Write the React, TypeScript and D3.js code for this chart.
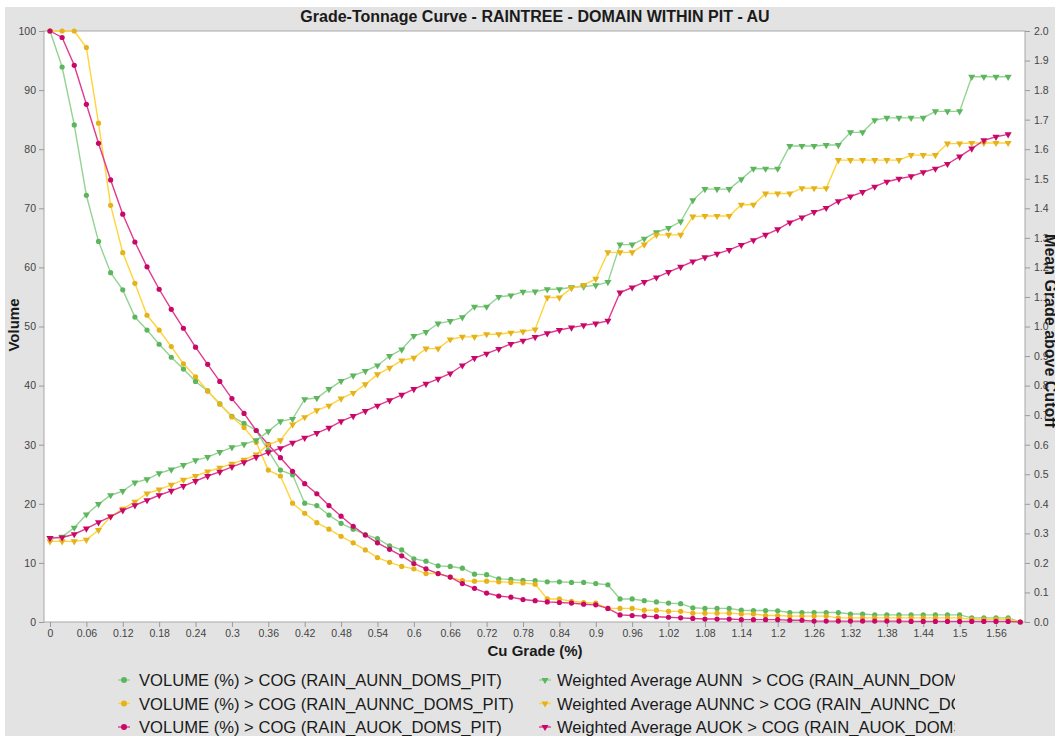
import { useEffect, useRef } from 'react';
import * as d3 from 'd3';

// cut-off grades (Cu %), one point every 0.02
const cutoffs = [
  0, 0.02, 0.04, 0.06, 0.08, 0.1, 0.12, 0.14, 0.16, 0.18,
  0.2, 0.22, 0.24, 0.26, 0.28, 0.3, 0.32, 0.34, 0.36, 0.38,
  0.4, 0.42, 0.44, 0.46, 0.48, 0.5, 0.52, 0.54, 0.56, 0.58,
  0.6, 0.62, 0.64, 0.66, 0.68, 0.7, 0.72, 0.74, 0.76, 0.78,
  0.8, 0.82, 0.84, 0.86, 0.88, 0.9, 0.92, 0.94, 0.96, 0.98,
  1, 1.02, 1.04, 1.06, 1.08, 1.1, 1.12, 1.14, 1.16, 1.18,
  1.2, 1.22, 1.24, 1.26, 1.28, 1.3, 1.32, 1.34, 1.36, 1.38,
  1.4, 1.42, 1.44, 1.46, 1.48, 1.5, 1.52, 1.54, 1.56, 1.58,
  1.6,
];

const xTicks = [0, 0.06, 0.12, 0.18, 0.24, 0.3, 0.36, 0.42, 0.48, 0.54, 0.6, 0.66, 0.72, 0.78,
  0.84, 0.9, 0.96, 1.02, 1.08, 1.14, 1.2, 1.26, 1.32, 1.38, 1.44, 1.5, 1.56];
const xTickLabels = ['0', '0.06', '0.12', '0.18', '0.24', '0.3', '0.36', '0.42', '0.48', '0.54', '0.6',
  '0.66', '0.72', '0.78', '0.84', '0.9', '0.96', '1.02', '1.08', '1.14', '1.2', '1.26', '1.32', '1.38',
  '1.44', '1.5', '1.56'];
const volumeTicks = [0, 10, 20, 30, 40, 50, 60, 70, 80, 90, 100];
const gradeTicks = [0, 0.1, 0.2, 0.3, 0.4, 0.5, 0.6, 0.7, 0.8, 0.9, 1.0, 1.1, 1.2, 1.3, 1.4, 1.5, 1.6, 1.7, 1.8, 1.9, 2.0];

// VOLUME (%) > COG
const volAunn = [
  100, 93.9, 84.1, 72.2, 64.4, 59.1, 56.2, 51.6, 49.4, 47.0,
  44.8, 42.8, 40.7, 39.1, 36.9, 34.8, 33.6, 32.4, 29.0, 25.7,
  24.9, 20.1, 19.7, 18.1, 16.7, 15.7, 14.8, 14.1, 12.9, 12.2,
  10.7, 10.3, 9.5, 9.4, 9.1, 8.1, 8.0, 7.3, 7.2, 7.05,
  7.0, 6.8, 6.8, 6.7, 6.7, 6.5, 6.3, 3.9, 3.9, 3.6,
  3.4, 3.2, 3.1, 2.4, 2.3, 2.3, 2.3, 2.0, 1.95, 1.95,
  1.9, 1.6, 1.6, 1.6, 1.6, 1.6, 1.35, 1.35, 1.2, 1.2,
  1.2, 1.2, 1.2, 1.2, 1.2, 1.2, 0.7, 0.7, 0.7, 0.7,
  0,
];
const volAunnc = [
  100, 100, 100, 97.2, 84.4, 70.5, 62.5, 57.3, 51.9, 49.4,
  46.6, 43.7, 41.5, 39.1, 36.9, 34.7, 32.9, 30.4, 25.7, 24.7,
  20.1, 18.4, 16.8, 15.7, 14.5, 13.4, 12.2, 10.9, 10.1, 9.4,
  9.0, 8.2, 8.2, 7.6, 7.0, 6.9, 6.9, 6.8, 6.7, 6.6,
  6.4, 3.9, 3.9, 3.5, 3.3, 3.2, 2.3, 2.3, 2.3, 2.0,
  2.0, 1.8, 1.8, 1.5, 1.5, 1.5, 1.5, 1.35, 1.35, 1.1,
  1.1, 1.0, 1.0, 1.0, 1.0, 0.7, 0.7, 0.7, 0.7, 0.7,
  0.7, 0.7, 0.7, 0.7, 0.7, 0.7, 0.45, 0.45, 0.45, 0.45,
  0,
];
const volAuok = [
  100, 98.9, 94.2, 87.6, 81.0, 74.8, 69.0, 64.3, 60.1, 56.3,
  52.9, 49.7, 46.5, 43.6, 40.7, 37.8, 35.3, 32.4, 30.0, 27.8,
  25.5, 23.4, 21.7, 19.7, 17.9, 16.2, 14.7, 13.4, 12.3, 11.2,
  9.9, 9.0, 8.2, 7.6, 6.5, 5.7, 4.9, 4.4, 4.2, 3.8,
  3.6, 3.4, 3.3, 3.2, 3.0, 2.9, 2.3, 1.2, 1.1, 1.0,
  0.9, 0.8, 0.7, 0.6, 0.5, 0.5, 0.5, 0.4, 0.4, 0.4,
  0.4, 0.3, 0.3, 0.15, 0.15, 0.15, 0.15, 0.15, 0.15, 0.15,
  0.15, 0.1, 0.1, 0.1, 0.1, 0.1, 0.1, 0.1, 0.1, 0.1,
  0,
];

// Weighted average grade > COG (right axis), last cut-off has no value
const gradeAunn = [
  0.284, 0.288, 0.319, 0.364, 0.399, 0.429, 0.443, 0.472, 0.483, 0.503,
  0.516, 0.531, 0.547, 0.558, 0.575, 0.591, 0.601, 0.615, 0.645, 0.679,
  0.687, 0.754, 0.758, 0.788, 0.815, 0.834, 0.849, 0.868, 0.900, 0.922,
  0.968, 0.981, 1.010, 1.018, 1.031, 1.067, 1.067, 1.100, 1.105, 1.117,
  1.118, 1.126, 1.126, 1.133, 1.135, 1.139, 1.150, 1.277, 1.277, 1.297,
  1.319, 1.333, 1.355, 1.427, 1.465, 1.465, 1.465, 1.498, 1.534, 1.534,
  1.534, 1.611, 1.611, 1.611, 1.614, 1.614, 1.657, 1.657, 1.698, 1.706,
  1.706, 1.706, 1.706, 1.728, 1.728, 1.728, 1.845, 1.845, 1.845, 1.845,
];
const gradeAunnc = [
  0.273, 0.273, 0.273, 0.278, 0.311, 0.357, 0.383, 0.407, 0.435, 0.448,
  0.464, 0.481, 0.494, 0.509, 0.522, 0.535, 0.549, 0.567, 0.600, 0.615,
  0.668, 0.693, 0.716, 0.732, 0.756, 0.775, 0.804, 0.838, 0.860, 0.885,
  0.894, 0.925, 0.925, 0.956, 0.965, 0.965, 0.974, 0.974, 0.979, 0.983,
  0.990, 1.098, 1.098, 1.130, 1.140, 1.161, 1.251, 1.251, 1.251, 1.277,
  1.310, 1.310, 1.310, 1.372, 1.374, 1.374, 1.374, 1.412, 1.412, 1.450,
  1.450, 1.450, 1.468, 1.468, 1.468, 1.563, 1.563, 1.563, 1.563, 1.563,
  1.563, 1.580, 1.580, 1.580, 1.619, 1.619, 1.621, 1.621, 1.621, 1.621,
];
const gradeAuok = [
  0.284, 0.286, 0.297, 0.316, 0.337, 0.357, 0.378, 0.395, 0.412, 0.429,
  0.444, 0.460, 0.477, 0.494, 0.508, 0.525, 0.540, 0.558, 0.574, 0.588,
  0.606, 0.623, 0.639, 0.657, 0.679, 0.697, 0.714, 0.732, 0.750, 0.769,
  0.788, 0.806, 0.823, 0.841, 0.868, 0.893, 0.908, 0.924, 0.941, 0.952,
  0.964, 0.977, 0.988, 0.996, 1.004, 1.010, 1.019, 1.115, 1.132, 1.150,
  1.166, 1.184, 1.202, 1.220, 1.234, 1.246, 1.259, 1.276, 1.292, 1.310,
  1.329, 1.352, 1.369, 1.387, 1.401, 1.424, 1.440, 1.455, 1.473, 1.490,
  1.500, 1.508, 1.522, 1.534, 1.550, 1.575, 1.602, 1.630, 1.642, 1.650,
];

const volumeLabels = [
  'VOLUME (%) > COG (RAIN_AUNN_DOMS_PIT)',
  'VOLUME (%) > COG (RAIN_AUNNC_DOMS_PIT)',
  'VOLUME (%) > COG (RAIN_AUOK_DOMS_PIT)',
];
const gradeLabels = [
  'Weighted Average AUNN  > COG (RAIN_AUNN_DOMS_PIT)',
  'Weighted Average AUNNC > COG (RAIN_AUNNC_DOMS_PIT)',
  'Weighted Average AUOK > COG (RAIN_AUOK_DOMS_PIT)',
];

const lineColors = ['#93d393', '#ffd43a', '#e23a8e'];
const markColors = ['#5db65d', '#e4b21c', '#c80868'];
const FONT = '"Liberation Sans", Arial, sans-serif';

export default function App() {
  const ref = useRef<SVGSVGElement>(null);

  useEffect(() => {
    const svg = d3.select(ref.current);
    svg.selectAll('*').remove();

    const W = 1055, H = 736;
    const plot = { left: 44, top: 31, right: 1025, bottom: 622 };

    svg.append('rect').attr('width', W).attr('height', H).attr('fill', '#fff');
    svg.append('rect').attr('x', 5).attr('y', 7).attr('width', W - 5).attr('height', H - 7).attr('fill', '#e3e3e3');
    svg.append('rect')
      .attr('x', plot.left).attr('y', plot.top)
      .attr('width', plot.right - plot.left).attr('height', plot.bottom - plot.top)
      .attr('fill', '#fff').attr('stroke', '#a8a8a8').attr('stroke-width', 1);

    const x = d3.scaleLinear().domain([0, 1.56]).range([50, 996]);
    const yVol = d3.scaleLinear().domain([0, 100]).range([plot.bottom, plot.top]);
    const yGrade = d3.scaleLinear().domain([0, 2]).range([plot.bottom, plot.top]);

    const styleAxis = (g: d3.Selection<SVGGElement, unknown, null, undefined>) => {
      g.select('.domain').remove();
      g.selectAll('line').attr('stroke', '#9a9a9a');
      g.selectAll('text').attr('fill', '#444').style('font-family', FONT).style('font-size', '10.5px');
    };

    svg.append('g')
      .attr('transform', `translate(${plot.left},0)`)
      .call(d3.axisLeft(yVol).tickValues(volumeTicks).tickSize(5).tickPadding(3))
      .call(styleAxis);

    svg.append('g')
      .attr('transform', `translate(${plot.right},0)`)
      .call(d3.axisRight(yGrade).tickValues(gradeTicks).tickSize(5).tickPadding(4).tickFormat(d3.format('.1f')))
      .call(styleAxis);

    svg.append('g')
      .attr('transform', `translate(0,${plot.bottom})`)
      .call(d3.axisBottom(x).tickValues(xTicks).tickSize(5).tickPadding(3)
        .tickFormat((_d, i) => xTickLabels[i]))
      .call(styleAxis);

    const volSeries = [volAunn, volAunnc, volAuok];
    const gradeSeries = [gradeAunn, gradeAunnc, gradeAuok];

    const tri = d3.symbol().type(d3.symbolTriangle).size(22);

    volSeries.forEach((vals, k) => {
      const pts = vals.map((v, i) => [x(cutoffs[i]), yVol(v)] as [number, number]);
      svg.append('path').attr('d', d3.line()(pts)).attr('fill', 'none')
        .attr('stroke', lineColors[k]).attr('stroke-width', 1.4);
    });
    gradeSeries.forEach((vals, k) => {
      const pts = vals.map((v, i) => [x(cutoffs[i]), yGrade(v)] as [number, number]);
      svg.append('path').attr('d', d3.line()(pts)).attr('fill', 'none')
        .attr('stroke', lineColors[k]).attr('stroke-width', 1.4);
    });
    volSeries.forEach((vals, k) => {
      svg.append('g').selectAll('circle').data(vals).join('circle')
        .attr('cx', (_v, i) => x(cutoffs[i])).attr('cy', v => yVol(v))
        .attr('r', 2.6).attr('fill', markColors[k]);
    });
    gradeSeries.forEach((vals, k) => {
      svg.append('g').selectAll('path').data(vals).join('path')
        .attr('d', tri)
        .attr('transform', (v, i) => `translate(${x(cutoffs[i])},${yGrade(v)}) rotate(180)`)
        .attr('fill', markColors[k]);
    });

    // titles
    svg.append('text').attr('x', 535).attr('y', 22).attr('text-anchor', 'middle')
      .style('font-family', FONT).style('font-size', '16px').style('font-weight', 'bold').attr('fill', '#1a1a1a')
      .text('Grade-Tonnage Curve - RAINTREE - DOMAIN WITHIN PIT - AU');
    svg.append('text').attr('x', 535).attr('y', 656).attr('text-anchor', 'middle')
      .style('font-family', FONT).style('font-size', '15px').style('font-weight', 'bold').attr('fill', '#1a1a1a')
      .text('Cu Grade (%)');
    svg.append('text').attr('transform', 'translate(19,325) rotate(-90)').attr('text-anchor', 'middle')
      .style('font-family', FONT).style('font-size', '15px').style('font-weight', 'bold').attr('fill', '#1a1a1a')
      .text('Volume');
    svg.append('text').attr('transform', 'translate(1045,331) rotate(90)').attr('text-anchor', 'middle')
      .style('font-family', FONT).style('font-size', '16px').style('font-weight', 'bold').attr('fill', '#1a1a1a')
      .text('Mean Grade above Cutoff');

    // legend
    svg.append('clipPath').attr('id', 'legend-clip')
      .append('rect').attr('x', 0).attr('y', 660).attr('width', 955).attr('height', 80);
    const legend = svg.append('g').attr('clip-path', 'url(#legend-clip)');
    const rowsY = [680, 703.5, 727];
    rowsY.forEach((ry, k) => {
      legend.append('line').attr('x1', 118).attr('x2', 130).attr('y1', ry).attr('y2', ry)
        .attr('stroke', lineColors[k]).attr('stroke-width', 1.4);
      legend.append('circle').attr('cx', 124).attr('cy', ry).attr('r', 3).attr('fill', markColors[k]);
      legend.append('text').attr('x', 139).attr('y', ry + 6)
        .style('font-family', FONT).style('font-size', '16.6px').attr('fill', '#1a1a1a')
        .text(volumeLabels[k]);

      legend.append('line').attr('x1', 539).attr('x2', 551).attr('y1', ry).attr('y2', ry)
        .attr('stroke', lineColors[k]).attr('stroke-width', 1.4);
      legend.append('path').attr('d', tri).attr('transform', `translate(545,${ry}) rotate(180)`)
        .attr('fill', markColors[k]);
      legend.append('text').attr('x', 557).attr('y', ry + 6)
        .style('font-family', FONT).style('font-size', '16.6px').style('white-space', 'pre').attr('fill', '#1a1a1a')
        .text(gradeLabels[k]);
    });
  }, []);

  return (
    <div style={{ position: 'absolute', left: 0, top: 0 }}>
      <svg ref={ref} width={1055} height={736} style={{ display: 'block' }} />
    </div>
  );
}
